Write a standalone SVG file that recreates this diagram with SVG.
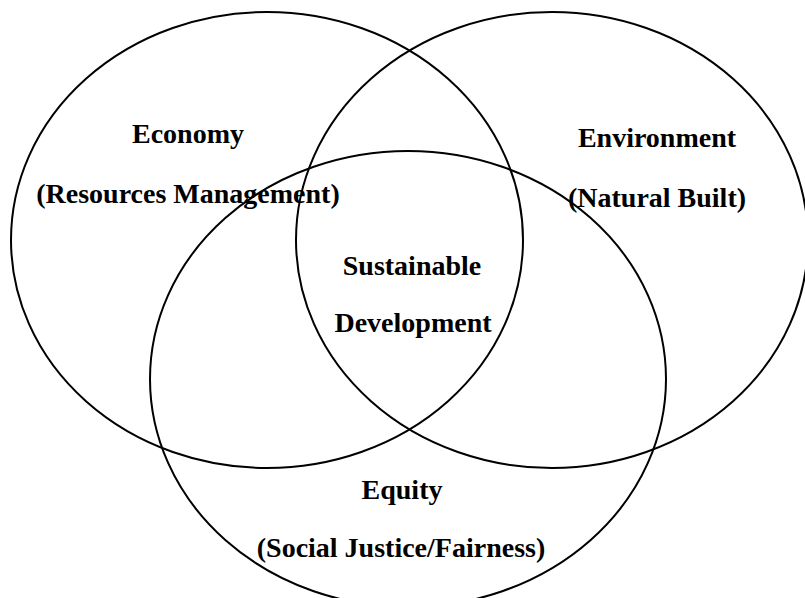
<svg xmlns="http://www.w3.org/2000/svg" width="805" height="598" viewBox="0 0 805 598">
<style>
.c{fill:none;stroke:#000;stroke-width:2}
.t{font-family:"Liberation Serif","Times New Roman",serif;font-weight:bold;font-size:28px;fill:#000;text-anchor:middle}
</style>
<rect width="805" height="598" fill="#fff"/>
<g id="economy">
<ellipse class="c" cx="267" cy="240" rx="256" ry="228"/>
<text class="t" x="188" y="143">Economy</text>
<text class="t" x="188" y="203">(Resources Management)</text>
</g>
<g id="environment">
<ellipse class="c" cx="552" cy="240" rx="256" ry="228"/>
<text class="t" x="657" y="147">Environment</text>
<text class="t" x="657" y="207">(Natural Built)</text>
</g>
<g id="equity">
<ellipse class="c" cx="408" cy="379" rx="258" ry="228"/>
<text class="t" x="402" y="499">Equity</text>
<text class="t" x="401" y="557">(Social Justice/Fairness)</text>
</g>
<g id="sustainable">
<text class="t" x="412" y="275">Sustainable</text>
<text class="t" x="413" y="332">Development</text>
</g>
</svg>
